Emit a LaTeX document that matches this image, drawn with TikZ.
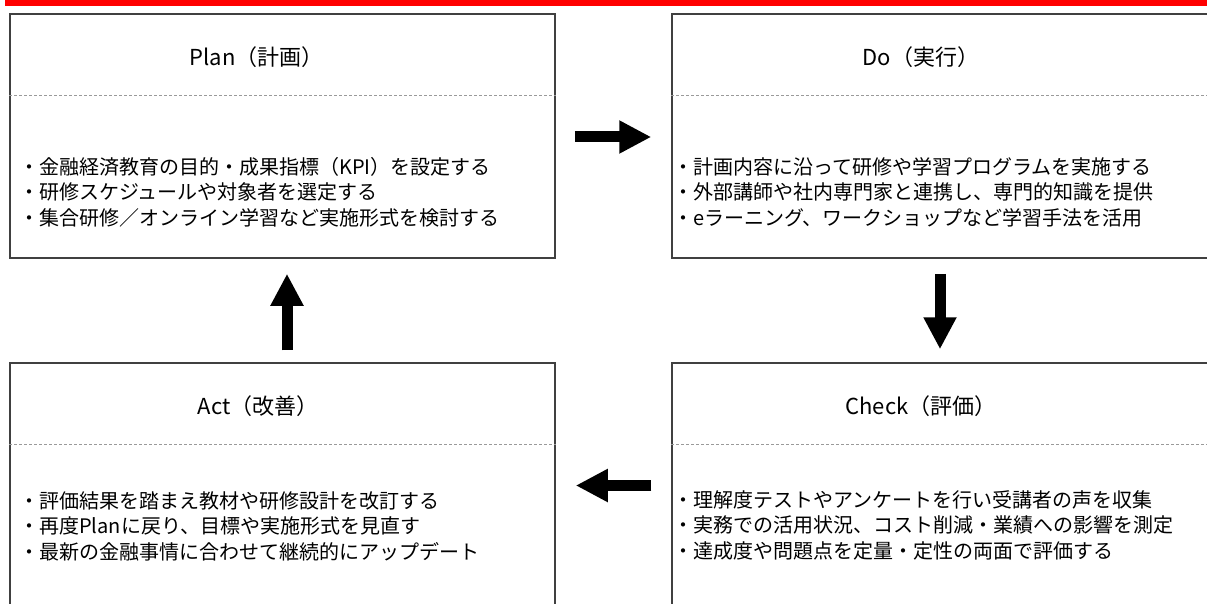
\documentclass[tikz,border=0pt]{standalone}
\usepackage{fontspec}
\setmainfont{Noto Sans CJK JP}
\usetikzlibrary{arrows.meta,calc}
\definecolor{boxline}{HTML}{404040}
\definecolor{dashgray}{HTML}{9A9A9A}
\definecolor{topbar}{HTML}{FF0000}
\tikzset{
  pdcabox/.style={draw=boxline, line width=1.5pt, minimum width=545pt, minimum height=244pt, inner sep=0pt},
  sepline/.style={draw=dashgray, line width=0.9pt, dash pattern=on 3pt off 2pt},
  titletext/.style={font=\fontsize{22}{26}\selectfont, inner sep=0pt, text=black},
  bodytext/.style={font=\fontsize{20}{25.5}\selectfont, align=left, inner sep=0pt, anchor=west, text=black},
  blockarrow/.style={line width=11pt, -{Triangle[length=32pt,width=31pt]}}
}
\begin{document}
\begin{tikzpicture}[x=1pt,y=-1pt]
\useasboundingbox (0,0) rectangle (1207,604);
\clip (0,0) rectangle (1207,604);
\fill[topbar] (5,0) rectangle (1207,5.7);

% boxes
\node[pdcabox] (plan) at (282.5,136) {};
\node[pdcabox] (do) at (944.5,136) {};
\node[pdcabox] (act) at (282.5,485) {};
\node[pdcabox] (check) at (944.5,485) {};

% separators
\draw[sepline] ($(plan.north west)+(0,82)$) -- ($(plan.north east)+(0,82)$);
\draw[sepline] ($(do.north west)+(0,82)$) -- ($(do.north east)+(0,82)$);
\draw[sepline] ($(act.north west)+(0,82)$) -- ($(act.north east)+(0,82)$);
\draw[sepline] ($(check.north west)+(0,82)$) -- ($(check.north east)+(0,82)$);

% titles
\node[titletext] (plantitle) at (256.5,57) {Plan（計画）};
\node[titletext] (dotitle) at (921,57) {Do（実行）};
\node[titletext] (acttitle) at (258,406) {Act（改善）};
\node[titletext] (checktitle) at (921,406) {Check（評価）};

% bodies
\node[bodytext] (planbody) at (19,192) {・金融経済教育の目的・成果指標（KPI）を設定する\\・研修スケジュールや対象者を選定する\\・集合研修／オンライン学習など実施形式を検討する};
\node[bodytext] (dobody) at (673,192) {・計画内容に沿って研修や学習プログラムを実施する\\・外部講師や社内専門家と連携し、専門的知識を提供\\・eラーニング、ワークショップなど学習手法を活用};
\node[bodytext] (actbody) at (19,526) {・評価結果を踏まえ教材や研修設計を改訂する\\・再度Planに戻り、目標や実施形式を見直す\\・最新の金融事情に合わせて継続的にアップデート};
\node[bodytext] (checkbody) at (673,525) {・理解度テストやアンケートを行い受講者の声を収集\\・実務での活用状況、コスト削減・業績への影響を測定\\・達成度や問題点を定量・定性の両面で評価する};

% arrow end points
\coordinate (pd1) at ($(plan.east)+(19,1)$);
\coordinate (pd2) at ($(do.west)+(-20,1)$);
\coordinate (dc1) at ($(do.south)+(-4.5,15)$);
\coordinate (dc2) at ($(check.north)+(-4.5,-13)$);
\coordinate (ca1) at ($(check.west)+(-20,0.5)$);
\coordinate (ca2) at ($(act.east)+(20,0.5)$);
\coordinate (ap1) at ($(act.north)+(4.5,-12)$);
\coordinate (ap2) at ($(plan.south)+(4.5,15)$);

\draw[blockarrow] (pd1) -- (pd2);
\draw[blockarrow] (dc1) -- (dc2);
\draw[blockarrow] (ca1) -- (ca2);
\draw[blockarrow] (ap1) -- (ap2);
\end{tikzpicture}
\end{document}
